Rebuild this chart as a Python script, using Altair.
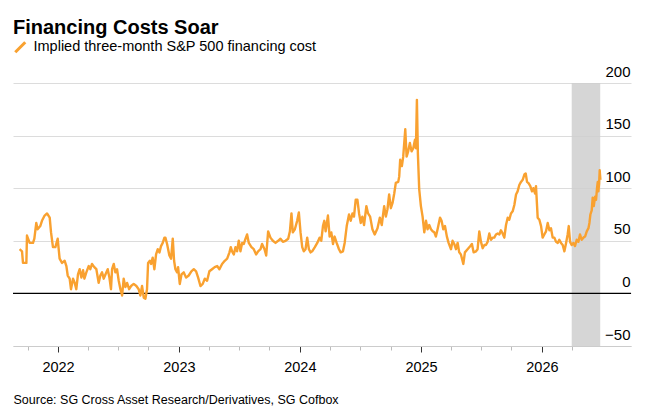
import altair as alt
import pandas as pd
from datetime import datetime

TITLE = "Financing Costs Soar"
SERIES = "Implied three-month S&P 500 financing cost"
SOURCE = "Source: SG Cross Asset Research/Derivatives, SG Cofbox"

dec_years = [
    2021.682, 2021.702, 2021.710, 2021.738, 2021.743, 2021.765, 2021.793, 2021.804, 2021.820, 2021.831,
    2021.853, 2021.867, 2021.889, 2021.909, 2021.931, 2021.942, 2021.958, 2021.978, 2021.997, 2022.013,
    2022.033, 2022.055, 2022.069, 2022.080, 2022.096, 2022.107, 2022.124, 2022.138, 2022.151, 2022.165,
    2022.179, 2022.193, 2022.207, 2022.218, 2022.234, 2022.254, 2022.267, 2022.281, 2022.300, 2022.317,
    2022.336, 2022.350, 2022.364, 2022.378, 2022.392, 2022.411, 2022.425, 2022.438, 2022.447, 2022.461,
    2022.474, 2022.488, 2022.502, 2022.516, 2022.530, 2022.543, 2022.557, 2022.571, 2022.588, 2022.604,
    2022.626, 2022.648, 2022.667, 2022.681, 2022.695, 2022.709, 2022.723, 2022.736, 2022.745, 2022.759,
    2022.770, 2022.783, 2022.797, 2022.811, 2022.825, 2022.839, 2022.852, 2022.866, 2022.880, 2022.888,
    2022.902, 2022.921, 2022.935, 2022.949, 2022.960, 2022.971, 2022.985, 2022.993, 2023.007, 2023.021,
    2023.040, 2023.059, 2023.081, 2023.103, 2023.123, 2023.142, 2023.159, 2023.178, 2023.197, 2023.214,
    2023.233, 2023.252, 2023.274, 2023.296, 2023.316, 2023.335, 2023.357, 2023.379, 2023.399, 2023.418,
    2023.429, 2023.440, 2023.454, 2023.468, 2023.481, 2023.495, 2023.509, 2023.523, 2023.537, 2023.551,
    2023.564, 2023.578, 2023.600, 2023.619, 2023.639, 2023.655, 2023.675, 2023.688, 2023.708, 2023.722,
    2023.738, 2023.757, 2023.777, 2023.799, 2023.821, 2023.840, 2023.860, 2023.882, 2023.904, 2023.918,
    2023.931, 2023.942, 2023.959, 2023.978, 2023.992, 2024.006, 2024.020, 2024.033, 2024.047, 2024.061,
    2024.075, 2024.089, 2024.102, 2024.124, 2024.144, 2024.163, 2024.177, 2024.191, 2024.202, 2024.213,
    2024.232, 2024.246, 2024.260, 2024.274, 2024.287, 2024.304, 2024.323, 2024.337, 2024.356, 2024.370,
    2024.387, 2024.406, 2024.420, 2024.434, 2024.447, 2024.461, 2024.475, 2024.489, 2024.503, 2024.516,
    2024.530, 2024.549, 2024.563, 2024.580, 2024.599, 2024.618, 2024.641, 2024.660, 2024.676, 2024.696,
    2024.710, 2024.723, 2024.737, 2024.751, 2024.765, 2024.779, 2024.792, 2024.812, 2024.820, 2024.828,
    2024.842, 2024.853, 2024.870, 2024.881, 2024.894, 2024.908, 2024.922, 2024.936, 2024.950, 2024.958,
    2024.966, 2024.974, 2024.985, 2024.999, 2025.013, 2025.027, 2025.041, 2025.054, 2025.068, 2025.082,
    2025.096, 2025.110, 2025.123, 2025.137, 2025.157, 2025.170, 2025.184, 2025.198, 2025.214, 2025.228,
    2025.248, 2025.261, 2025.275, 2025.289, 2025.303, 2025.316, 2025.330, 2025.350, 2025.363, 2025.385,
    2025.408, 2025.421, 2025.435, 2025.455, 2025.468, 2025.482, 2025.496, 2025.510, 2025.524, 2025.537,
    2025.551, 2025.565, 2025.579, 2025.593, 2025.606, 2025.620, 2025.634, 2025.648, 2025.661, 2025.675,
    2025.689, 2025.703, 2025.717, 2025.730, 2025.744, 2025.758, 2025.772, 2025.786, 2025.799, 2025.813,
    2025.827, 2025.841, 2025.855, 2025.866, 2025.877, 2025.888, 2025.904, 2025.918, 2025.929, 2025.943,
    2025.951, 2025.960, 2025.965, 2025.979, 2025.993, 2026.006, 2026.020, 2026.034, 2026.048, 2026.062,
    2026.075, 2026.089, 2026.103, 2026.117, 2026.131, 2026.144, 2026.158, 2026.172, 2026.186, 2026.200,
    2026.213, 2026.222, 2026.233, 2026.246, 2026.260, 2026.274, 2026.288, 2026.302, 2026.315, 2026.329,
    2026.343, 2026.357, 2026.371, 2026.385, 2026.393, 2026.401, 2026.412, 2026.420, 2026.429, 2026.440,
    2026.448, 2026.456, 2026.462, 2026.467, 2026.473, 2026.478, 2026.484,
]

# Implied financing cost (bp)
cost = [
    42, 40, 29, 29, 55, 48, 48, 52, 67, 61,
    64, 69, 74, 76, 72, 58, 44, 44, 52, 33,
    29, 31, 26, 17, 14, 4, 14, 10, 4, 18,
    23, 15, 22, 14, 20, 26, 23, 28, 25, 23,
    10, 17, 20, 14, 18, 23, 15, 4, 23, 28,
    20, 23, 12, 4, -2, 14, 6, 10, 4, 7,
    9, 7, 4, -2, 7, -4, -5, 4, 29, 31,
    28, 34, 23, 37, 42, 39, 45, 48, 53, 53,
    47, 36, 33, 52, 31, 23, 20, 25, 9, 18,
    20, 15, 17, 21, 23, 21, 15, 7, 9, 14,
    12, 21, 23, 25, 26, 23, 28, 31, 33, 39,
    44, 40, 37, 44, 40, 50, 40, 48, 47, 52,
    56, 48, 44, 42, 37, 40, 42, 47, 42, 36,
    59, 53, 50, 48, 50, 52, 49, 50, 52, 59,
    76, 58, 61, 69, 77, 58, 44, 40, 42, 53,
    42, 39, 40, 44, 48, 53, 50, 64, 69, 59,
    74, 54, 58, 47, 54, 48, 42, 39, 40, 48,
    64, 75, 69, 76, 73, 89, 89, 76, 67, 73,
    65, 83, 76, 73, 61, 56, 62, 72, 65, 83,
    73, 80, 94, 81, 86, 95, 105, 106, 111, 127,
    121, 130, 156, 130, 135, 143, 135, 138, 146, 138,
    184, 133, 99, 83, 73, 58, 69, 61, 65, 61,
    59, 58, 54, 61, 72, 69, 61, 64, 54, 48,
    42, 50, 47, 42, 48, 39, 37, 28, 39, 42,
    45, 47, 39, 40, 42, 59, 49, 43, 46, 46,
    49, 57, 51, 53, 53, 56, 57, 56, 60, 57,
    53, 65, 72, 70, 76, 78, 84, 94, 97, 103,
    106, 108, 113, 114, 106, 105, 102, 97, 100, 95,
    102, 83, 72, 70, 64, 53, 56, 59, 67, 60,
    62, 53, 53, 49, 48, 51, 48, 46, 40, 48,
    56, 64, 49, 46, 48, 45, 51, 49, 56, 51,
    53, 54, 59, 62, 67, 75, 79, 91, 83, 92,
    89, 100, 106, 97, 104, 117, 108,
]

shade_start = ["2026-04-01T00:00:00"]
shade_end = ["2026-06-26T00:00:00"]
y_ticks = [-50, 0, 50, 100, 150, 200]
tick_months = [(2021, 10)] + [(y, m) for y in [2022, 2023, 2024, 2025] for m in (1, 4, 7, 10)] + [(2026, 1), (2026, 4)]


def dec_to_iso(y):
    yr = int(y)
    start = datetime(yr, 1, 1)
    end = datetime(yr + 1, 1, 1)
    return (start + (end - start) * (y - yr)).strftime("%Y-%m-%dT%H:%M:%S")


FONT = "Liberation Sans"
ORANGE = "#f9a130"

df = pd.DataFrame({"date": [dec_to_iso(v) for v in dec_years], "value": cost, "series": SERIES})
shade = pd.DataFrame({"start": shade_start, "end": shade_end, "lo": [-50], "hi": [200]})
zero = pd.DataFrame({"y": [0]})

x_scale = alt.Scale(domain=[alt.DateTime(year=2021, month=8, date=18), alt.DateTime(year=2026, month=9, date=27)])
y_scale = alt.Scale(domain=[-50, 200], nice=False, zero=False)

major = "month(datum.value) == 0"

x_axis = alt.Axis(
    values=[alt.DateTime(year=y, month=m, date=1) for y, m in tick_months],
    labelExpr="month(datum.value) == 0 ? timeFormat(datum.value, '%Y') : ''",
    grid=False,
    domain=True, domainColor="#cccccc", domainWidth=1,
    ticks=True,
    tickColor={"condition": {"test": major, "value": "#333333"}, "value": "#bbbbbb"},
    tickSize={"condition": {"test": major, "value": 6}, "value": 4},
    tickWidth=1,
    labelFont=FONT, labelFontSize=14.5, labelColor="#000000",
    labelBaseline="alphabetic", labelPadding=19,
    labelFlush=False, labelOverlap=False,
    title=SOURCE, titleFont=FONT, titleFontSize=12.5, titleFontWeight="normal",
    titleColor="#000000", titleAnchor="start", titleAlign="left",
    titleBaseline="alphabetic", titleX=0, titleY=57,
)

y_axis = alt.Axis(
    orient="right", values=y_ticks, grid=True, gridColor="#dcdcdc", gridWidth=1,
    domain=False, ticks=False, tickSize=0,
    labelAlign="right", labelBaseline="alphabetic", labelPadding=-1, labelOffset=-7,
    labelFont=FONT, labelFontSize=15, labelColor="#000000",
    labelFlush=False, labelOverlap=False, title=None,
)

rect = alt.Chart(shade).mark_rect(color="#cfcfcf", opacity=0.85).encode(
    x=alt.X("start:T", scale=x_scale, axis=x_axis, title=SOURCE),
    x2="end:T",
    y=alt.Y("lo:Q", scale=y_scale, axis=y_axis, title=None),
    y2="hi:Q",
)

rule = alt.Chart(zero).mark_rule(color="#000000", strokeWidth=1.3).encode(
    y=alt.Y("y:Q", scale=y_scale, axis=y_axis, title=None),
)

line = alt.Chart(df).mark_line(strokeWidth=2.4, strokeJoin="round").encode(
    x=alt.X("date:T", scale=x_scale, axis=x_axis, title=SOURCE),
    y=alt.Y("value:Q", scale=y_scale, axis=y_axis, title=None),
    color=alt.Color(
        "series:N",
        scale=alt.Scale(domain=[SERIES], range=[ORANGE]),
        legend=alt.Legend(
            title=None, orient="none", legendX=0, legendY=-43, padding=0,
            symbolType="M-1,1L1,-1", symbolSize=100, symbolStrokeWidth=3,
            labelFont=FONT, labelFontSize=14.5, labelColor="#000000", labelOffset=6,
            labelLimit=600,
        ),
    ),
)

chart = alt.layer(rect, rule, line).properties(
    width=618,
    height=263,
    background="#ffffff",
    title=alt.TitleParams(
        TITLE, anchor="start", font=FONT, fontSize=20, fontWeight="bold",
        color="#000000", baseline="alphabetic", offset=12, dy=26, frame="group",
    ),
    padding={"left": 5, "top": 75, "right": 17, "bottom": 60},
    autosize=alt.AutoSizeParams(type="none"),
).configure_view(stroke=None)

chart.save("out.html", embed_options={"renderer": "svg", "actions": False})
